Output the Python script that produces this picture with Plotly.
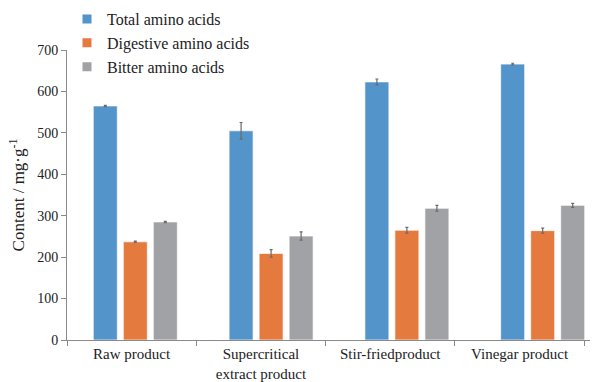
import plotly.graph_objects as go

# Amino acid content (mg/g) of Radix product under four processing methods
categories = ["Raw product", "Supercritical<br>extract product", "Stir-friedproduct", "Vinegar product"]
series_names = ["Total amino acids", "Digestive amino acids", "Bitter amino acids"]
total_vals = [565, 505, 623, 666]
total_err = [1.5, 20, 7, 2]
digestive_vals = [237, 209, 265, 264]
digestive_err = [1.5, 9, 7, 6]
bitter_vals = [285, 251, 318, 325]
bitter_err = [1.5, 10, 7, 5]
y_ticks = [0, 100, 200, 300, 400, 500, 600, 700]

colors = ["#5394CA", "#E57A3F", "#A1A2A6"]
FONT = "Liberation Serif, Times New Roman, serif"

fig = go.Figure()
for name, vals, errs, col in zip(series_names,
                                  [total_vals, digestive_vals, bitter_vals],
                                  [total_err, digestive_err, bitter_err],
                                  colors):
    fig.add_trace(go.Bar(
        x=categories, y=vals, name=name, showlegend=False,
        marker=dict(color=col, line=dict(color="rgba(255,255,255,0.7)", width=1)),
        error_y=dict(type="data", array=errs, visible=True,
                     color="#6b6b6b", thickness=1.2, width=1.5),
        xaxis="x", yaxis="y",
    ))

# legend swatches (on the label axis so that axis gets drawn)
for name, col in zip(series_names, colors):
    fig.add_trace(go.Scatter(
        x=[None], y=[None], mode="markers", name=name,
        marker=dict(symbol="square", size=9, color=col),
        xaxis="x2", yaxis="y",
    ))

W, H = 609, 382
left, right, top, bottom = 67, 19, 50, 42
plot_w = W - left - right

# bar slots: category pitch in px and first group centre
pitch_bars = 135.8
first_center = 135.3
r0 = -(first_center - left) / pitch_bars
r1 = r0 + plot_w / pitch_bars

# label axis: category boundaries every ~129 px from the y axis
pitch_labels = 129.3
n = len(categories)

fig.update_layout(
    width=W, height=H,
    margin=dict(l=left, r=right, t=top, b=bottom, autoexpand=False),
    paper_bgcolor="white", plot_bgcolor="white",
    barmode="group", bargap=0.337, bargroupgap=0.2,
    font=dict(family=FONT, size=14, color="#222222"),
    legend=dict(
        x=0.0, y=1.165,
        xanchor="left", yanchor="top",
        font=dict(family=FONT, size=16, color="#222222"),
        bgcolor="rgba(0,0,0,0)", tracegroupgap=0, itemwidth=30,
    ),
    xaxis=dict(type="category", categoryorder="array", categoryarray=categories,
               range=[r0, r1], showticklabels=False, ticks="", showline=False,
               showgrid=False, zeroline=False),
    xaxis2=dict(overlaying="x", anchor="y", side="bottom",
                range=[0, plot_w / pitch_labels],
                tickmode="array",
                tickvals=[i + 0.5 for i in range(n)], ticktext=categories,
                ticks="", showline=True, linecolor="#8a8a8a", linewidth=1,
                showgrid=False, zeroline=False,
                tickfont=dict(family=FONT, size=15, color="#222222"),
                minor=dict(tickmode="array", tickvals=list(range(n + 1)),
                           ticks="outside", ticklen=5, tickcolor="#8a8a8a", tickwidth=1)),
    yaxis=dict(range=[0, 700], tickmode="array", tickvals=y_ticks,
               ticks="outside", ticklen=5, tickcolor="#8a8a8a",
               showline=True, linecolor="#8a8a8a", linewidth=1,
               showgrid=False, zeroline=False,
               tickfont=dict(family=FONT, size=14, color="#222222"),
               title=dict(text="Content / mg·g<sup>-1</sup>",
                          font=dict(family=FONT, size=17, color="#222222"),
                          standoff=8)),
)

fig.write_html("out.html")
